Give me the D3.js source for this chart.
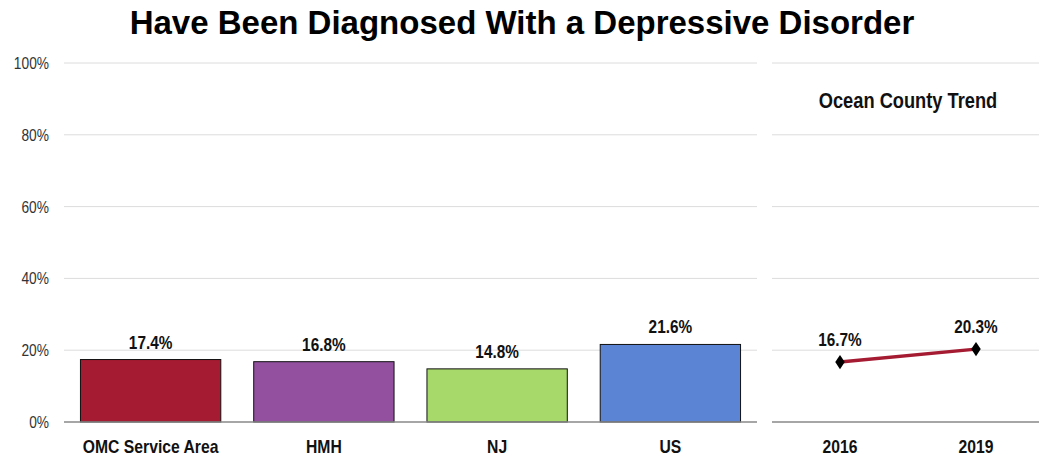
<!DOCTYPE html>
<html><head><meta charset="utf-8">
<script src="https://cdn.jsdelivr.net/npm/d3@7"></script>
<style>
body{margin:0;background:#fff;}
text{font-family:"Liberation Sans Narrow","Arial Narrow","Liberation Sans",Arial,sans-serif;}
.title{font-family:"Liberation Sans",Arial,sans-serif;}
</style></head><body>
<svg id="c" width="1039" height="456"></svg>
<script>
const categories = ["OMC Service Area","HMH","NJ","US"];
const values = [17.4,16.8,14.8,21.6];
const colors = ["#A51B31","#92509E","#A6D96A","#5B84D5"];
const trendYears = ["2016","2019"];
const trendValues = [16.7,20.3];
const yTicks = [0,20,40,60,80,100];

const NARROW = 0.83;
const svg = d3.select("#c");
const y = d3.scaleLinear().domain([0,100]).range([422,63]);
const x = d3.scaleBand().domain(categories).range([64,757]).paddingInner(0.19).paddingOuter(0.095);
const x2 = d3.scalePoint().domain(trendYears).range([840,976]);

function ntext(sel, fx, fy, k){
  return sel.attr("x",0).attr("y",0)
    .attr("transform",(d,i)=>`translate(${fx(d,i)},${fy(d,i)}) scale(${k||NARROW},1)`);
}

svg.append("text").attr("class","title").attr("x",522).attr("y",34).attr("text-anchor","middle")
  .attr("font-size",33).attr("font-weight","bold").attr("fill","#000").text("Have Been Diagnosed With a Depressive Disorder");

// grid
const g = svg.append("g");
yTicks.forEach(t=>{
  if(t===0) return;
  g.append("line").attr("x1",64).attr("x2",757).attr("y1",y(t)).attr("y2",y(t)).attr("stroke","#dcdcdc").attr("stroke-width",1);
  g.append("line").attr("x1",772).attr("x2",1039).attr("y1",y(t)).attr("y2",y(t)).attr("stroke","#dcdcdc").attr("stroke-width",1);
});
// y axis labels
const ya = svg.append("g").selectAll("text").data(yTicks).join("text")
  .attr("text-anchor","end").attr("font-size",16).attr("fill","#333")
  .text(d=>d3.format("d")(d)+"%");
ntext(ya, ()=>49, d=>y(d)+6, 0.86);

// bars
svg.append("g").selectAll("rect").data(values).join("rect")
  .attr("x",(d,i)=>x(categories[i])).attr("width",x.bandwidth())
  .attr("y",d=>y(d)).attr("height",d=>y(0)-y(d))
  .attr("fill",(d,i)=>colors[i]).attr("stroke","#111").attr("stroke-width",1);
const vl = svg.append("g").selectAll("text").data(values).join("text")
  .attr("text-anchor","middle").attr("font-size",18.5).attr("font-weight","bold").attr("fill","#111")
  .text(d=>d.toFixed(1)+"%");
ntext(vl, (d,i)=>x(categories[i])+x.bandwidth()/2, d=>y(d)-11);
// x axis
svg.append("line").attr("x1",64).attr("x2",757).attr("y1",y(0)).attr("y2",y(0)).attr("stroke","#888").attr("stroke-width",1.3);
const cl = svg.append("g").selectAll("text").data(categories).join("text")
  .attr("text-anchor","middle").attr("font-size",18.5).attr("font-weight","bold").attr("fill","#111").text(d=>d);
ntext(cl, d=>x(d)+x.bandwidth()/2, ()=>452.5, 0.85);

// right panel
svg.append("line").attr("x1",772).attr("x2",1039).attr("y1",y(0)).attr("y2",y(0)).attr("stroke","#888").attr("stroke-width",1.3);
const ot = svg.append("text").attr("text-anchor","middle").attr("font-size",22).attr("font-weight","bold").attr("fill","#111").text("Ocean County Trend");
ntext(ot, ()=>908, ()=>108.3);
const line = d3.line().x((d,i)=>x2(trendYears[i])).y(d=>y(d));
svg.append("path").datum(trendValues).attr("d",line).attr("fill","none").attr("stroke","#A51B31").attr("stroke-width",3.5);
svg.append("g").selectAll("path").data(trendValues).join("path")
  .attr("d",d3.symbol().type(d3.symbolDiamond).size(65))
  .attr("transform",(d,i)=>`translate(${x2(trendYears[i])},${y(d)}) scale(1.1,0.95)`).attr("fill","#000");
const tl = svg.append("g").selectAll("text").data(trendValues).join("text")
  .attr("text-anchor","middle").attr("font-size",18.5).attr("font-weight","bold").attr("fill","#111")
  .text(d=>d.toFixed(1)+"%");
ntext(tl, (d,i)=>x2(trendYears[i]), d=>y(d)-16);
const yl = svg.append("g").selectAll("text").data(trendYears).join("text")
  .attr("text-anchor","middle").attr("font-size",18.5).attr("font-weight","bold").attr("fill","#111").text(d=>d);
ntext(yl, d=>x2(d), ()=>452.5, 0.85);
</script></body></html>
